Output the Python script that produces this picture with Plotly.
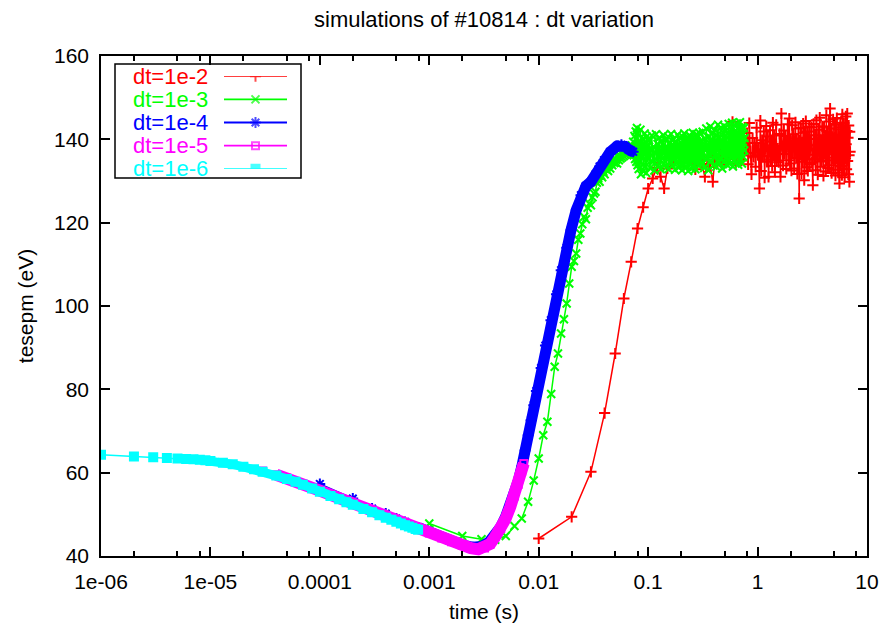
import plotly.graph_objects as go

# ---- simulated tesepm (eV) vs time (s), one run per time step ----

# dt = 1e-2
red_rise_t = [0.01, 0.02, 0.03, 0.04, 0.05, 0.06, 0.07, 0.08, 0.09, 0.10,
              0.11, 0.12, 0.13, 0.14, 0.15]
red_rise_v = [44.2, 49.4, 60.2, 74.3, 88.6, 101.8, 110.6, 118.6, 123.7, 128.2,
              130.6, 133.2, 131.0, 128.2, 133.0]
red_mid_t = [0.17, 0.19, 0.21, 0.23, 0.25, 0.27, 0.29, 0.31, 0.33, 0.35,
             0.37, 0.39, 0.41, 0.43, 0.45, 0.47, 0.49, 0.51, 0.53, 0.55,
             0.57, 0.59, 0.61, 0.63, 0.65, 0.67, 0.69, 0.71, 0.73, 0.75]
red_mid_v = [134.5, 136.8, 133.6, 137.9, 135.2, 132.8, 136.4, 134.1, 131.0, 135.7,
             133.4, 129.8, 136.2, 134.6, 137.5, 133.9, 136.0, 134.8, 138.1, 135.3,
             137.0, 144.2, 136.5, 134.2, 138.4, 135.6, 137.3, 134.9, 139.0, 136.1]
red_tail_t = [0.78, 0.80, 0.82, 0.84, 0.86, 0.88, 0.90, 0.92, 0.94, 0.96,
              0.98, 1.00, 1.02, 1.04, 1.06, 1.08, 1.10, 1.12, 1.14, 1.16,
              1.18, 1.20, 1.22, 1.24, 1.26, 1.28, 1.30, 1.32, 1.34, 1.36,
              1.38, 1.40, 1.42, 1.44, 1.46, 1.48, 1.50,
              1.53, 1.56, 1.59, 1.62, 1.65, 1.68, 1.71, 1.74, 1.77, 1.80,
              1.83, 1.86, 1.89, 1.92, 1.95, 1.98, 2.01, 2.04, 2.07, 2.10,
              2.13, 2.16, 2.19, 2.22, 2.25, 2.28, 2.31, 2.34, 2.37, 2.40,
              2.43, 2.46, 2.49, 2.52, 2.55, 2.58, 2.61, 2.64, 2.67, 2.70,
              2.73, 2.76, 2.79, 2.82, 2.85, 2.88, 2.91, 2.94, 2.97, 3.00,
              3.05, 3.10, 3.15, 3.20, 3.25, 3.30, 3.35, 3.40, 3.45, 3.50,
              3.55, 3.60, 3.65, 3.70, 3.75, 3.80, 3.85, 3.90, 3.95, 4.00,
              4.05, 4.10, 4.15, 4.20, 4.25, 4.30, 4.35, 4.40, 4.45, 4.50,
              4.55, 4.60, 4.65, 4.70, 4.75, 4.80, 4.85, 4.90, 4.95, 5.00,
              5.05, 5.10, 5.15, 5.20, 5.25, 5.30, 5.35, 5.40, 5.45, 5.50,
              5.55, 5.60, 5.65, 5.70, 5.75, 5.80, 5.85, 5.90, 5.95, 6.00,
              6.05, 6.10, 6.15, 6.20, 6.25, 6.30, 6.35, 6.40, 6.45, 6.50,
              6.55, 6.60, 6.65, 6.70, 6.75, 6.80, 6.85, 6.90, 6.95, 7.00]
red_tail_v = [138.2, 141.5, 134.0, 143.9, 136.7, 131.6, 140.3, 135.8, 139.1, 133.4,
              142.8, 136.2, 137.6, 128.2, 144.5, 132.4, 139.8, 136.0, 141.9, 130.8,
              138.5, 143.2, 134.6, 140.7, 131.0, 137.3, 142.2, 135.1, 139.4, 133.6,
              144.0, 136.4, 140.9, 132.1, 138.0, 143.5, 134.9,
              137.8, 134.5, 141.3, 131.0, 146.2, 138.4, 133.7, 142.1, 136.5, 140.8,
              132.9, 139.2, 143.6, 135.0, 145.0, 134.2, 139.6, 132.5, 143.4, 137.1,
              141.2, 133.0, 138.9, 144.1, 135.5, 140.2, 131.7, 137.4, 142.6, 125.8,
              139.8, 136.8, 142.7, 131.8, 139.3, 134.6, 143.8, 137.9, 130.2, 141.6,
              135.2, 144.4, 133.3, 138.7, 141.9, 132.4, 140.1, 136.3, 143.1, 134.0,
              138.6, 142.9, 134.4, 129.0, 143.7, 135.2, 141.0, 132.6, 144.6, 137.4,
              131.5, 142.3, 136.1, 145.2, 133.4, 139.8, 134.7, 143.1, 138.0, 131.2,
              143.0, 136.6, 140.9, 132.3, 145.8, 135.0, 141.7, 133.1, 139.2, 144.3,
              133.8, 147.4, 137.9, 142.6, 131.9, 140.3, 135.6, 144.8, 132.7, 139.5,
              136.4, 143.5, 131.3, 141.1, 137.0, 145.1, 134.3, 139.9, 132.0, 142.4,
              135.7, 129.4, 140.6, 144.0, 133.6, 138.3, 142.9, 131.4, 146.0, 136.9,
              139.7, 133.0, 143.9, 137.2, 130.9, 141.5, 135.4, 145.5, 138.8, 132.8,
              142.0, 146.2, 134.8, 140.4, 131.6, 143.3, 136.2, 129.8, 141.8, 137.0]

# dt = 1e-3
green_rise_t = [0.001, 0.002, 0.003, 0.004, 0.005, 0.006, 0.007, 0.008, 0.009, 0.010,
                0.011, 0.012, 0.013, 0.014, 0.015, 0.016, 0.017, 0.018, 0.019, 0.020,
                0.021, 0.022, 0.023, 0.024, 0.025, 0.026, 0.027, 0.028, 0.029, 0.030,
                0.031, 0.032, 0.033, 0.034, 0.035, 0.036, 0.037, 0.038, 0.039, 0.040,
                0.041, 0.042, 0.043, 0.044, 0.045, 0.046, 0.047, 0.048, 0.049]
green_rise_v = [47.8, 44.8, 44.0, 43.9, 44.8, 47.2, 49.0, 53.0, 58.1, 63.4,
                69.0, 72.2, 78.9, 85.4, 88.6, 93.4, 96.8, 100.6, 105.4, 109.4,
                110.8, 112.6, 115.9, 117.4, 119.6, 121.4, 120.8, 123.6, 124.6, 124.2,
                126.1, 127.0, 127.4, 129.6, 130.6, 129.8, 131.4, 130.9, 132.2, 131.6,
                132.8, 133.3, 132.4, 133.9, 133.0, 134.6, 133.8, 135.2, 134.3]
green_flat_t = [0.050, 0.051, 0.052, 0.053, 0.054, 0.055, 0.056, 0.057, 0.058, 0.059,
                0.060, 0.061, 0.062, 0.063, 0.064, 0.065, 0.066, 0.067, 0.068, 0.069,
                0.070, 0.071, 0.072, 0.073, 0.074, 0.075, 0.076, 0.077, 0.078, 0.079,
                0.080, 0.081, 0.082, 0.083, 0.084, 0.085, 0.086, 0.087, 0.088, 0.089,
                0.090, 0.091, 0.092, 0.093, 0.094, 0.095, 0.096, 0.097, 0.098, 0.099,
                0.100,
                0.102, 0.104, 0.106, 0.108, 0.110, 0.112, 0.114, 0.116, 0.118, 0.120,
                0.122, 0.124, 0.126, 0.128, 0.130, 0.132, 0.134, 0.136, 0.138, 0.140,
                0.142, 0.144, 0.146, 0.148, 0.150, 0.152, 0.154, 0.156, 0.158, 0.160,
                0.162, 0.164, 0.166, 0.168, 0.170, 0.172, 0.174, 0.176, 0.178, 0.180,
                0.182, 0.184, 0.186, 0.188, 0.190, 0.192, 0.194, 0.196, 0.198, 0.200,
                0.202, 0.204, 0.206, 0.208, 0.210, 0.212, 0.214, 0.216, 0.218, 0.220,
                0.222, 0.224, 0.226, 0.228, 0.230, 0.232, 0.234, 0.236, 0.238, 0.240,
                0.242, 0.244, 0.246, 0.248, 0.250, 0.252, 0.254, 0.256, 0.258, 0.260,
                0.262, 0.264, 0.266, 0.268, 0.270, 0.272, 0.274, 0.276, 0.278, 0.280,
                0.282, 0.284, 0.286, 0.288, 0.290, 0.292, 0.294, 0.296, 0.298, 0.300,
                0.305, 0.310, 0.315, 0.320, 0.325, 0.330, 0.335, 0.340, 0.345, 0.350,
                0.355, 0.360, 0.365, 0.370, 0.375, 0.380, 0.385, 0.390, 0.395, 0.400,
                0.405, 0.410, 0.415, 0.420, 0.425, 0.430, 0.435, 0.440, 0.445, 0.450,
                0.455, 0.460, 0.465, 0.470, 0.475, 0.480, 0.485, 0.490, 0.495, 0.500,
                0.505, 0.510, 0.515, 0.520, 0.525, 0.530, 0.535, 0.540, 0.545, 0.550,
                0.555, 0.560, 0.565, 0.570, 0.575, 0.580, 0.585, 0.590, 0.595, 0.600,
                0.605, 0.610, 0.615, 0.620, 0.625, 0.630, 0.635, 0.640, 0.645, 0.650,
                0.655, 0.660, 0.665, 0.670, 0.675, 0.680, 0.685, 0.690, 0.695, 0.700,
                0.705, 0.710, 0.715, 0.720, 0.725, 0.730, 0.735, 0.740, 0.745, 0.750,
                0.755, 0.760]
green_flat_v = [134.5, 135.1, 134.2, 135.8, 135.0, 136.1, 135.4, 136.6, 135.7, 136.9,
                136.0, 137.2, 136.3, 137.6, 136.5, 137.9, 136.8, 138.2, 137.0, 138.0,
                137.3, 138.5, 137.1, 139.4, 136.2, 140.8, 135.3, 141.9, 134.6, 142.7,
                133.8, 141.5, 132.9, 139.6, 134.7, 142.3, 131.6, 138.4, 135.9, 140.1,
                132.4, 139.0, 136.3, 141.4, 133.5, 137.8, 131.9, 140.6, 134.8, 138.7,
                135.6,
                139.8, 133.1, 137.4, 140.9, 134.6, 138.2, 132.5, 136.8, 141.2, 135.0,
                138.9, 133.7, 140.3, 136.1, 132.8, 139.5, 135.4, 137.7, 141.0, 134.2,
                136.9, 139.8, 133.3, 138.1, 135.7, 140.6, 132.9, 137.2, 139.1, 134.8,
                141.3, 136.4, 133.6, 138.7, 135.1, 140.0, 137.5, 132.7, 139.4, 136.0,
                134.3, 138.5, 141.1, 135.8, 133.2, 137.9, 140.4, 136.6, 134.0, 139.2,
                137.1, 132.6, 140.7, 135.5, 138.3, 133.9, 141.4, 136.2, 139.7, 134.5,
                137.6, 140.2, 133.4, 138.8, 135.9, 132.4, 139.9, 136.7, 141.0, 134.1,
                138.0, 135.2, 140.5, 133.0, 137.3, 139.6, 134.7, 141.6, 136.3, 138.6,
                133.5, 140.1, 135.6, 137.8, 132.8, 139.3, 136.9, 141.2, 134.4, 138.2,
                135.0, 140.8, 137.0, 133.7, 139.0, 136.5, 141.5, 134.9, 138.4, 136.1,
                139.6, 134.3, 141.8, 136.8, 133.1, 140.2, 137.5, 142.6, 135.2, 138.9,
                132.6, 140.7, 136.4, 143.1, 134.8, 139.3, 137.0, 141.5, 133.7, 138.4,
                142.3, 135.9, 139.8, 133.4, 141.0, 137.2, 143.5, 136.1, 134.5, 140.4,
                138.1, 142.8, 135.3, 139.6, 133.0, 141.7, 137.8, 136.0, 143.2, 134.6,
                140.0, 137.4, 142.1, 135.7, 139.2, 133.8, 141.3, 138.6, 143.7, 136.2,
                134.1, 140.8, 137.9, 142.5, 135.5, 139.9, 144.0, 136.7, 133.5, 141.2,
                138.3, 143.4, 135.0, 140.5, 137.1, 142.0, 134.4, 139.4, 143.8, 136.5,
                141.6, 138.8, 133.9, 142.9, 136.3, 140.1, 137.6, 144.1, 135.4, 139.7,
                142.4, 136.9, 140.9, 134.2, 143.0, 138.0, 141.4, 135.8, 139.0, 142.7,
                137.3, 140.3]

# dt = 1e-4
blue_t = [1e-4, 2e-4, 3e-4, 4e-4, 5e-4, 6e-4, 8e-4, 1e-3, 1.5e-3, 2e-3,
          2.5e-3, 3e-3, 3.5e-3, 4e-3, 4.5e-3, 5e-3, 5.5e-3, 6e-3, 6.5e-3, 7e-3,
          7.5e-3, 8e-3, 8.5e-3, 9e-3, 9.5e-3, 0.0105, 0.0115, 0.0129, 0.0145, 0.016,
          0.018, 0.0197, 0.022, 0.0243, 0.027, 0.030, 0.033, 0.036, 0.0395, 0.045,
          0.052, 0.057, 0.0615, 0.066, 0.0705, 0.073]
blue_v = [57.3, 53.8, 51.4, 50.2, 49.0, 48.2, 46.8, 45.7, 43.8, 42.7,
          42.1, 42.3, 43.3, 44.9, 47.0, 49.5, 52.3, 55.0, 58.0, 61.4,
          65.3, 69.0, 72.6, 76.2, 79.6, 85.1, 90.5, 96.6, 102.8, 108.6,
          114.0, 118.2, 123.0, 126.6, 128.8, 129.8, 131.6, 133.5, 135.0, 137.0,
          138.4, 138.7, 138.3, 137.6, 137.1, 137.0]

# dt = 1e-5
magenta_t = [1e-5, 2e-5, 3e-5, 4e-5, 5e-5, 7e-5, 1e-4, 1.5e-4, 2e-4, 3e-4,
             4e-4, 5e-4, 7e-4, 1e-3, 1.3e-3, 1.6e-3, 2e-3, 2.4e-3, 2.8e-3, 3.2e-3,
             3.6e-3, 4e-3, 4.5e-3, 5e-3, 5.5e-3, 6e-3, 6.5e-3, 7e-3, 7.3e-3]
magenta_v = [62.9, 61.5, 60.4, 59.5, 58.7, 57.3, 55.7, 53.9, 52.6, 50.8,
             49.5, 48.5, 47.1, 45.5, 44.3, 43.4, 42.6, 41.9, 41.6, 41.9,
             42.9, 44.6, 46.6, 49.0, 51.8, 54.4, 57.2, 60.4, 62.2]

# dt = 1e-6
cyan_t = [1e-6, 2e-6, 3e-6, 4e-6, 5e-6, 6e-6, 7e-6, 8e-6, 9e-6, 1e-5,
          1.3e-5, 1.6e-5, 2e-5, 2.5e-5, 3e-5, 4e-5, 5e-5, 6e-5, 7e-5, 8.5e-5,
          1e-4, 1.25e-4, 1.5e-4, 1.75e-4, 2e-4, 2.5e-4, 3e-4, 3.5e-4, 4e-4, 4.5e-4,
          5e-4, 5.5e-4, 6e-4, 6.5e-4, 7e-4, 7.5e-4, 7.9e-4]
cyan_v = [64.3, 63.9, 63.7, 63.5, 63.4, 63.3, 63.2, 63.1, 63.0, 62.8,
          62.4, 62.0, 61.4, 60.8, 60.2, 59.3, 58.5, 57.8, 57.1, 56.2,
          55.4, 54.4, 53.6, 52.9, 52.3, 51.3, 50.5, 49.8, 49.2, 48.7,
          48.2, 47.8, 47.4, 47.1, 46.8, 46.5, 46.3]

red_t = red_rise_t + red_mid_t + red_tail_t
red_v = red_rise_v + red_mid_v + red_tail_v
green_t = green_rise_t + green_flat_t
green_v = green_rise_v + green_flat_v

labels = ["dt=1e-2", "dt=1e-3", "dt=1e-4", "dt=1e-5", "dt=1e-6"]
colors = ["#ff0000", "#00ff00", "#0000ff", "#ff00ff", "#00ffff"]
symbols = ["cross-thin-open", "x-thin-open", "asterisk-open", "square-open", "square"]
msizes = [8, 8, 9, 7, 8]
band_widths = [None, None, 11, 12, 9]

x_major = [1e-6, 1e-5, 1e-4, 1e-3, 1e-2, 1e-1, 1, 10]
x_major_text = ["1e-06", "1e-05", "0.0001", "0.001", "0.01", "0.1", "1", "10"]
x_minor = [m * d for d in x_major[:-1] for m in (2, 5, 8)]
y_major = [40, 60, 80, 100, 120, 140, 160]

series = [
    (red_t, red_v, None),
    (green_t, green_v, None),
    (blue_t, blue_v, 6),
    (magenta_t, magenta_v, 3),
    (cyan_t, cyan_v, 7),
]

for (t, v, band_from), name in zip(series, labels):
    if len(t) != len(v):
        raise ValueError(f"{name}: {len(t)} times vs {len(v)} values")

fig = go.Figure()

for i, (t, v, band_from) in enumerate(series):
    c = colors[i]
    if band_from is not None:
        # densely packed markers merge into a solid band
        fig.add_trace(go.Scatter(
            x=t[band_from:], y=v[band_from:], mode="lines",
            line=dict(color=c, width=band_widths[i]), hoverinfo="skip", showlegend=False))
    fig.add_trace(go.Scatter(
        x=t, y=v, mode="lines+markers", name=labels[i],
        line=dict(color=c, width=1.5),
        marker=dict(symbol=symbols[i], size=msizes[i], color=c,
                    line=dict(color=c, width=2)),
        showlegend=False))

# key samples (line with a centred marker), on a small helper axis pair
for i in range(5):
    c = colors[i]
    fig.add_trace(go.Scatter(
        x=[0, 0.5, 1], y=[i, i, i], xaxis="x2", yaxis="y2",
        mode="lines+markers", line=dict(color=c, width=1.8),
        marker=dict(symbol=symbols[i], size=[0, msizes[i], 0], color=c,
                    line=dict(color=c, width=2)),
        hoverinfo="skip", showlegend=False))

W, H = 885, 628
L, R, T, B = 101, 18, 56, 72
pw, ph = W - L - R, H - T - B


def px_x(px):
    return (px - L) / pw


def px_y(py):
    return (H - B - py) / ph


family = "Liberation Sans, Arial, sans-serif"
font = dict(family=family, size=21, color="#000000")

annotations = []
row_y = [76.7, 99.6, 122.5, 145.4, 168.3]
for i in range(5):
    annotations.append(dict(
        text=labels[i], xref="paper", yref="paper",
        x=px_x(210), y=px_y(row_y[i]), xanchor="right", yanchor="middle",
        showarrow=False, font=dict(family=family, size=22, color=colors[i])))

fig.update_layout(
    width=W, height=H,
    margin=dict(l=L, r=R, t=T, b=B, pad=0),
    paper_bgcolor="white", plot_bgcolor="white",
    font=font,
    title=dict(text="simulations of #10814 : dt variation", x=px_x(484), xref="paper",
               xanchor="center", y=1 - 19 / H, yanchor="middle", yref="container",
               font=dict(family=family, size=22, color="#000000")),
    xaxis=dict(
        type="log", range=[-6, 1], tickmode="array", tickvals=x_major, ticktext=x_major_text,
        ticks="inside", ticklen=9, tickwidth=1.5, tickcolor="black",
        showline=True, linecolor="black", linewidth=1.5, mirror="allticks",
        showgrid=False, zeroline=False, ticklabelstandoff=6, automargin=False,
        minor=dict(tickmode="array", tickvals=x_minor, ticks="inside", ticklen=5,
                   tickwidth=1.5, tickcolor="black", showgrid=False),
        title=dict(text="time (s)", standoff=12, font=dict(family=family, size=21)),
    ),
    yaxis=dict(
        range=[40, 160], tickmode="array", tickvals=y_major,
        ticks="inside", ticklen=9, tickwidth=1.5, tickcolor="black",
        showline=True, linecolor="black", linewidth=1.5, mirror="allticks",
        showgrid=False, zeroline=False, ticklabelstandoff=6, automargin=False,
        title=dict(text="tesepm (eV)", standoff=15, font=dict(family=family, size=21)),
    ),
    xaxis2=dict(domain=[px_x(224), px_x(287)], range=[0, 1], anchor="y2",
                visible=False, fixedrange=True),
    yaxis2=dict(domain=[px_y(row_y[4]) - 0.001, px_y(row_y[0]) + 0.001], range=[4, 0],
                anchor="x2", visible=False, fixedrange=True),
    shapes=[dict(type="rect", xref="paper", yref="paper",
                 x0=px_x(115), x1=px_x(301), y0=px_y(178), y1=px_y(64),
                 line=dict(color="black", width=1.5), layer="above")],
    annotations=annotations,
)

fig.write_html("out.html")
